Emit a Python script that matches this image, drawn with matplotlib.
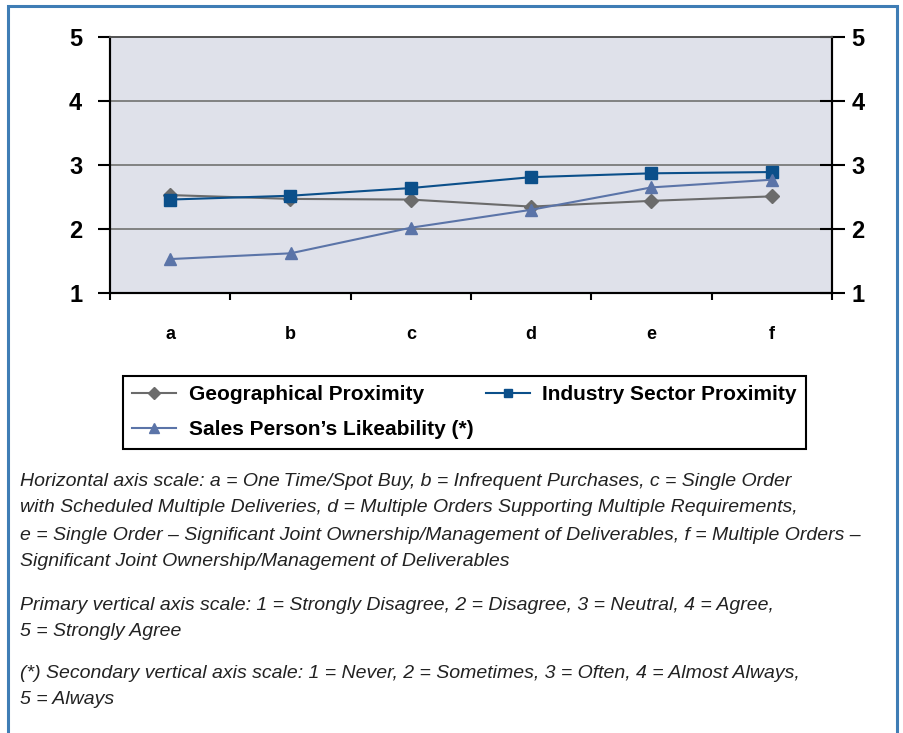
import matplotlib
matplotlib.use("Agg")
import matplotlib.pyplot as plt
from matplotlib.patches import Rectangle
from matplotlib.lines import Line2D

categories = ["a", "b", "c", "d", "e", "f"]
geo = [2.53, 2.47, 2.46, 2.35, 2.44, 2.51]
industry = [2.46, 2.52, 2.64, 2.81, 2.87, 2.89]
likeability = [1.53, 1.62, 2.02, 2.30, 2.65, 2.77]
yticks = [1, 2, 3, 4, 5]
series_names = ["Geographical Proximity", "Industry Sector Proximity", "Sales Person\u2019s Likeability (*)"]

notes = [
    ("Horizontal axis scale: a = One\u2009Time/Spot Buy, b = Infrequent Purchases, c = Single Order", 481),
    ("with Scheduled Multiple Deliveries, d = Multiple Orders Supporting Multiple Requirements,", 508),
    ("e = Single Order \u2013 Significant Joint Ownership/Management of Deliverables, f = Multiple Orders \u2013", 535),
    ("Significant Joint Ownership/Management of Deliverables", 562),
    ("Primary vertical axis scale: 1 = Strongly Disagree, 2 = Disagree, 3 = Neutral, 4 = Agree,", 605),
    ("5 = Strongly Agree", 632),
    ("(*) Secondary vertical axis scale: 1 = Never, 2 = Sometimes, 3 = Often, 4 = Almost Always,", 673),
    ("5 = Always", 700),
]

W, H = 904, 733
fig = plt.figure(figsize=(W / 100, H / 100), dpi=100)

def fx(px):
    return px / W

def fy(py):
    return 1 - py / H

# outer border
fig.patches.append(Rectangle((fx(8), fy(760)), fx(897) - fx(8), fy(6) - fy(760),
                             transform=fig.transFigure, fill=False,
                             edgecolor="#3f7db5", linewidth=2.2, zorder=0))

ax = fig.add_axes([fx(110), fy(293), fx(832) - fx(110), fy(37) - fy(293)])
ax.set_facecolor("#dfe1ea")
x = [i + 0.5 for i in range(len(categories))]

ax.set_xlim(0, len(categories))
ax.set_ylim(1, 5)
for v in yticks[1:]:
    ax.axhline(v, color="#7a7a7a", linewidth=1.3, zorder=1)

ax.plot(x, geo, color="#6b6b6b", marker="D", markersize=7, linewidth=1.5, zorder=3)
ax.plot(x, industry, color="#0b4f8a", marker="s", markersize=8, linewidth=1.5, zorder=4)

ax2 = ax.twinx()
ax2.set_ylim(1, 5)
ax2.plot(x, likeability, color="#5b74a8", marker="^", markersize=9, linewidth=1.5, zorder=3)

for a in (ax, ax2):
    for s in a.spines.values():
        s.set_color("black")
        s.set_linewidth(1.5)
    a.spines["top"].set_color("#555555")
    a.spines["top"].set_linewidth(1.3)

ax.set_yticks(yticks)
ax.set_yticklabels([str(v) for v in yticks], fontsize=17, fontweight="bold", family="Liberation Sans")
ax.tick_params(axis="y", direction="out", length=9, width=1.5, pad=11)

ax2.set_yticks(yticks)
ax2.set_yticklabels([str(v) for v in yticks], fontsize=17, fontweight="bold", family="Liberation Sans")
ax2.tick_params(axis="y", direction="inout", length=18, width=1.5, pad=5)

ax.set_xticks(x)
ax.set_xticklabels(categories, fontsize=13, fontweight="bold", family="Liberation Sans")
ax.tick_params(axis="x", length=0, pad=24)
ax.set_xticks(range(len(categories) + 1), minor=True)
ax.tick_params(axis="x", which="minor", direction="out", length=5, width=1.5)

# legend
handles = [
    Line2D([], [], color="#6b6b6b", marker="D", markersize=6, linewidth=1.5),
    Line2D([], [], color="#0b4f8a", marker="s", markersize=6, linewidth=1.5),
    Line2D([], [], color="#5b74a8", marker="^", markersize=7, linewidth=1.5),
]
order = [0, 2, 1]
leg = fig.legend([handles[i] for i in order], [series_names[i] for i in order], ncol=2,
                 loc="upper left", bbox_to_anchor=(fx(123), fy(376)), borderaxespad=0,
                 prop={"family": "Liberation Sans", "weight": "bold", "size": 15},
                 frameon=True, fancybox=False, edgecolor="black", framealpha=1,
                 handlelength=2.1, columnspacing=0.6, labelspacing=0.77,
                 borderpad=0.45, handletextpad=0.6)
leg.get_frame().set_linewidth(1.5)

for txt, py in notes:
    fig.text(fx(20), fy(py), txt, ha="left", va="center", fontsize=14,
             style="italic", family="Liberation Sans", color="#222222")

fig.savefig("out.png", dpi=100)
